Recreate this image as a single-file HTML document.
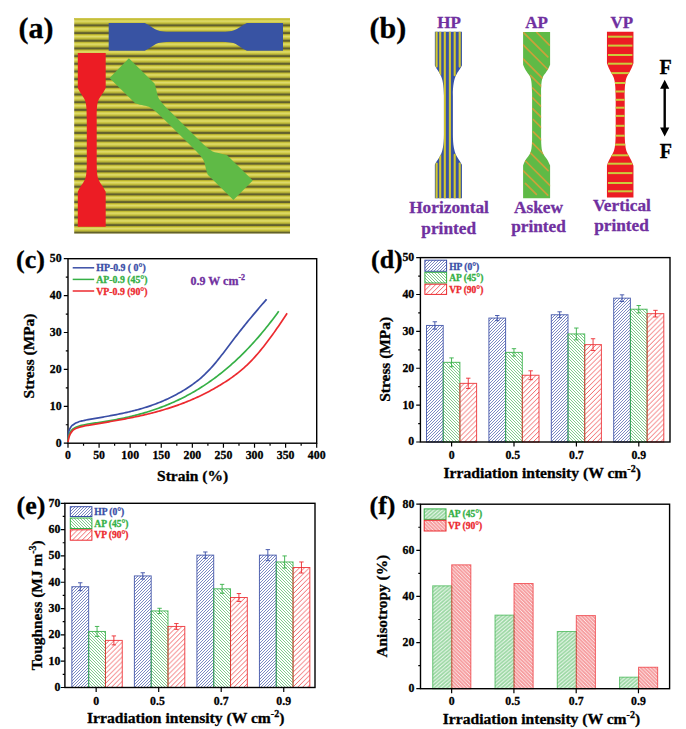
<!DOCTYPE html><html><head><meta charset="utf-8"><style>html,body{margin:0;padding:0;background:#fff}svg{display:block}text{font-family:'Liberation Serif',serif;font-weight:bold;stroke-width:0.3px}</style></head><body>
<svg width="686" height="729" viewBox="0 0 686 729">
<defs>
<linearGradient id="stripeG" x1="0" y1="0" x2="0" y2="1"><stop offset="0" stop-color="#4b4a27"/><stop offset="0.08" stop-color="#676530"/><stop offset="0.22" stop-color="#cfc72c"/><stop offset="0.46" stop-color="#dfdc74"/><stop offset="0.64" stop-color="#cec83c"/><stop offset="0.8" stop-color="#aaa636"/><stop offset="0.92" stop-color="#6a682e"/><stop offset="1" stop-color="#4b4a27"/></linearGradient>
<pattern id="stripes" patternUnits="userSpaceOnUse" x="0" y="2.372" width="300" height="7.681"><rect x="0" y="0" width="300" height="7.681" fill="url(#stripeG)"/></pattern>
<pattern id="hB" patternUnits="userSpaceOnUse" width="3.0" height="3.0"><path d="M0,3.0 L3.0,0 M-1.5,1.5 L1.5,-1.5 M1.5,4.5 L4.5,1.5" stroke="#3a4ea6" stroke-width="0.9" stroke-opacity="0.75" fill="none"/></pattern>
<pattern id="hG" patternUnits="userSpaceOnUse" width="3.0" height="3.0"><path d="M0,0 L3.0,3.0 M-1.5,1.5 L1.5,4.5 M1.5,-1.5 L4.5,1.5" stroke="#35b046" stroke-width="0.9" stroke-opacity="0.7" fill="none"/></pattern>
<pattern id="hR" patternUnits="userSpaceOnUse" width="4.9" height="4.9"><path d="M0,4.9 L4.9,0 M-2.45,2.45 L2.45,-2.45 M2.45,7.3500000000000005 L7.3500000000000005,2.45" stroke="#ec2a2f" stroke-width="0.9" stroke-opacity="0.8" fill="none"/></pattern>
<pattern id="fG" patternUnits="userSpaceOnUse" width="4.2" height="3.6"><rect width="4.2" height="3.6" fill="#35b046" fill-opacity="0.5"/><path d="M0,3.6 L4.2,0 M-2.1,1.8 L2.1,-1.8 M2.1,5.4 L6.3,1.8" stroke="#fff" stroke-width="0.9" stroke-opacity="0.85"/></pattern>
<pattern id="fR" patternUnits="userSpaceOnUse" width="3.6" height="3.6"><rect width="3.6" height="3.6" fill="#ec2a2f" fill-opacity="0.45"/><path d="M0,0 L3.6,3.6 M-1.8,1.8 L1.8,5.4 M1.8,-1.8 L5.4,1.8" stroke="#fff" stroke-width="0.9" stroke-opacity="0.85"/></pattern>
</defs>
<text x="18.5" y="38" font-size="30" stroke="#000">(a)</text>
<rect x="74.2" y="18.1" width="215.8" height="215.5" fill="url(#stripes)"/>
<rect x="74.2" y="18.1" width="215.8" height="1.1" fill="#d6cf52"/>
<path fill="#3853a3" transform="translate(195.85,36.8) rotate(0)" d="M-87.15,-13.85 L-51.05,-13.85 C-37.04,-6.76 -43.06,-4.95 -18.85,-4.95 L18.85,-4.95 C43.06,-4.95 37.04,-6.76 51.05,-13.85 L87.15,-13.85 L87.15,13.85 L51.05,13.85 C37.04,6.76 43.06,4.95 18.85,4.95 L-18.85,4.95 C-43.06,4.95 -37.04,6.76 -51.05,13.85 L-87.15,13.85 Z"/>
<path fill="#ec1c24" transform="translate(91.75,139.8) rotate(90)" d="M-86.90,-13.95 L-51.90,-13.95 C-37.89,-6.78 -43.91,-4.95 -19.70,-4.95 L19.70,-4.95 C43.91,-4.95 37.89,-6.78 51.90,-13.95 L86.90,-13.95 L86.90,13.95 L51.90,13.95 C37.89,6.78 43.91,4.95 19.70,4.95 L-19.70,4.95 C-43.91,4.95 -37.89,6.78 -51.90,13.95 L-86.90,13.95 Z"/>
<path fill="#5fba46" transform="translate(181.15,129.2) rotate(44.6)" d="M-87.00,-13.80 L-51.00,-13.80 C-36.99,-6.75 -43.01,-4.95 -18.80,-4.95 L18.80,-4.95 C43.01,-4.95 36.99,-6.75 51.00,-13.80 L87.00,-13.80 L87.00,13.80 L51.00,13.80 C36.99,6.75 43.01,4.95 18.80,4.95 L-18.80,4.95 C-43.01,4.95 -36.99,6.75 -51.00,13.80 L-87.00,13.80 Z"/>
<text x="369.5" y="38" font-size="30" stroke="#000">(b)</text>
<text x="449.1" y="27.8" font-size="17" fill="#7030a0" text-anchor="middle" stroke="#7030a0">HP</text>
<text x="536.6" y="27.8" font-size="17" fill="#7030a0" text-anchor="middle" stroke="#7030a0">AP</text>
<text x="621.8" y="27.8" font-size="17" fill="#7030a0" text-anchor="middle" stroke="#7030a0">VP</text>
<text x="449" y="213.2" font-size="17.3" fill="#7030a0" text-anchor="middle" stroke="#7030a0">Horizontal</text>
<text x="448.7" y="233.6" font-size="17.3" fill="#7030a0" text-anchor="middle" stroke="#7030a0">printed</text>
<text x="538.5" y="213.2" font-size="17.3" fill="#7030a0" text-anchor="middle" stroke="#7030a0">Askew</text>
<text x="538.5" y="232.3" font-size="17.3" fill="#7030a0" text-anchor="middle" stroke="#7030a0">printed</text>
<text x="621.9" y="210.9" font-size="17.3" fill="#7030a0" text-anchor="middle" stroke="#7030a0">Vertical</text>
<text x="621.5" y="230.5" font-size="17.3" fill="#7030a0" text-anchor="middle" stroke="#7030a0">printed</text>
<clipPath id="cHP"><path transform="translate(448.4,115.05) rotate(90)" d="M-83.25,-13.55 L-49.62,-13.55 C-42.18,-10.07 -41.06,-4.50 -19.38,-4.50 L19.38,-4.50 C41.06,-4.50 42.18,-10.07 49.62,-13.55 L83.25,-13.55 L83.25,13.55 L49.62,13.55 C42.18,10.07 41.06,4.50 19.38,4.50 L-19.38,4.50 C-41.06,4.50 -42.18,10.07 -49.62,13.55 L-83.25,13.55 Z"/></clipPath>
<clipPath id="cAP"><path transform="translate(536.6,115.1) rotate(90)" d="M-83.20,-13.50 L-50.34,-13.50 C-36.60,-8.05 -44.43,-4.50 -21.24,-4.50 L21.24,-4.50 C44.43,-4.50 36.60,-8.05 50.34,-13.50 L83.20,-13.50 L83.20,13.50 L50.34,13.50 C36.60,8.05 44.43,4.50 21.24,4.50 L-21.24,4.50 C-44.43,4.50 -36.60,8.05 -50.34,13.50 L-83.20,13.50 Z"/></clipPath>
<clipPath id="cVP"><path transform="translate(620.2,114.55) rotate(90)" d="M-82.85,-13.25 L-51.22,-13.25 C-35.36,-7.78 -43.04,-4.50 -15.67,-4.50 L15.67,-4.50 C43.04,-4.50 35.36,-7.78 51.22,-13.25 L82.85,-13.25 L82.85,13.25 L51.22,13.25 C35.36,7.78 43.04,4.50 15.67,4.50 L-15.67,4.50 C-43.04,4.50 -35.36,7.78 -51.22,13.25 L-82.85,13.25 Z"/></clipPath>
<path fill="#3853a3" transform="translate(448.4,115.05) rotate(90)" d="M-83.25,-13.55 L-49.62,-13.55 C-42.18,-10.07 -41.06,-4.50 -19.38,-4.50 L19.38,-4.50 C41.06,-4.50 42.18,-10.07 49.62,-13.55 L83.25,-13.55 L83.25,13.55 L49.62,13.55 C42.18,10.07 41.06,4.50 19.38,4.50 L-19.38,4.50 C-41.06,4.50 -42.18,10.07 -49.62,13.55 L-83.25,13.55 Z"/>
<g clip-path="url(#cHP)" stroke="#d2c82e" stroke-width="2.1" stroke-linecap="round">
<line x1="436.6" y1="31.5" x2="436.6" y2="66.6"/>
<line x1="436.6" y1="163.50" x2="436.6" y2="198.6"/>
<line x1="440.2" y1="31.5" x2="440.2" y2="75.3"/>
<line x1="440.2" y1="154.80" x2="440.2" y2="198.6"/>
<line x1="444.8" y1="31.5" x2="444.8" y2="198.6"/>
<line x1="449.9" y1="31.5" x2="449.9" y2="198.6"/>
<line x1="454.7" y1="31.5" x2="454.7" y2="75.3"/>
<line x1="454.7" y1="154.80" x2="454.7" y2="198.6"/>
<line x1="459.7" y1="31.5" x2="459.7" y2="66.6"/>
<line x1="459.7" y1="163.50" x2="459.7" y2="198.6"/>
</g>
<path fill="#5fba46" transform="translate(536.6,115.1) rotate(90)" d="M-83.20,-13.50 L-50.34,-13.50 C-36.60,-8.05 -44.43,-4.50 -21.24,-4.50 L21.24,-4.50 C44.43,-4.50 36.60,-8.05 50.34,-13.50 L83.20,-13.50 L83.20,13.50 L50.34,13.50 C36.60,8.05 44.43,4.50 21.24,4.50 L-21.24,4.50 C-44.43,4.50 -36.60,8.05 -50.34,13.50 L-83.20,13.50 Z"/>
<g clip-path="url(#cAP)" stroke="#c9a23a" stroke-width="1.7" stroke-linecap="round">
<line x1="536.8" y1="32.50" x2="549.4" y2="45.10"/>
<line x1="523.6" y1="32.70" x2="547.8" y2="56.90"/>
<line x1="523.1" y1="44.80" x2="547.8" y2="69.50"/>
<line x1="523.1" y1="58.85" x2="542.8" y2="78.55"/>
<line x1="530.5" y1="75.50" x2="541.9" y2="86.90"/>
<line x1="532.6" y1="88.00" x2="540.5" y2="95.90"/>
<line x1="532.6" y1="97.90" x2="541.2" y2="106.50"/>
<line x1="532.6" y1="108.60" x2="541.2" y2="117.20"/>
<line x1="533.3" y1="119.50" x2="541.6" y2="127.80"/>
<line x1="533.3" y1="131.90" x2="541.6" y2="140.20"/>
<line x1="532.6" y1="143.20" x2="543.4" y2="154.00"/>
<line x1="528.9" y1="151.40" x2="548.1" y2="170.60"/>
<line x1="525.4" y1="161.00" x2="550.1" y2="185.70"/>
<line x1="523.1" y1="170.60" x2="547.7" y2="195.20"/>
<line x1="525.4" y1="183.40" x2="536.4" y2="194.40"/>
</g>
<path fill="#ec1c24" transform="translate(620.2,114.55) rotate(90)" d="M-82.85,-13.25 L-51.22,-13.25 C-35.36,-7.78 -43.04,-4.50 -15.67,-4.50 L15.67,-4.50 C43.04,-4.50 35.36,-7.78 51.22,-13.25 L82.85,-13.25 L82.85,13.25 L51.22,13.25 C35.36,7.78 43.04,4.50 15.67,4.50 L-15.67,4.50 C-43.04,4.50 -35.36,7.78 -51.22,13.25 L-82.85,13.25 Z"/>
<g clip-path="url(#cVP)">
<rect x="608" y="35.7" width="24.4" height="2" fill="#cbcc3c"/>
<rect x="608" y="44.6" width="24.4" height="2" fill="#cbcc3c"/>
<rect x="608" y="54" width="24.4" height="2" fill="#cbcc3c"/>
<rect x="608" y="62.7" width="24.4" height="2" fill="#cbcc3c"/>
<rect x="608" y="72.1" width="24.4" height="2" fill="#cbcc3c"/>
<rect x="608" y="82" width="24.4" height="2" fill="#cbcc3c"/>
<rect x="608" y="90.5" width="24.4" height="2" fill="#cbcc3c"/>
<rect x="608" y="98.8" width="24.4" height="2" fill="#cbcc3c"/>
<rect x="608" y="106.7" width="24.4" height="2" fill="#cbcc3c"/>
<rect x="608" y="114.9" width="24.4" height="2" fill="#cbcc3c"/>
<rect x="608" y="124.8" width="24.4" height="2" fill="#cbcc3c"/>
<rect x="608" y="134.7" width="24.4" height="2" fill="#cbcc3c"/>
<rect x="608" y="143.6" width="24.4" height="2" fill="#cbcc3c"/>
<rect x="608" y="154.3" width="24.4" height="2" fill="#cbcc3c"/>
<rect x="608" y="162.7" width="24.4" height="2" fill="#cbcc3c"/>
<rect x="608" y="172.1" width="24.4" height="2" fill="#cbcc3c"/>
<rect x="608" y="182" width="24.4" height="2" fill="#cbcc3c"/>
<rect x="608" y="190.3" width="24.4" height="2" fill="#cbcc3c"/>
</g>
<text x="665.5" y="74" font-size="20" text-anchor="middle" stroke="#000">F</text>
<text x="665.8" y="158" font-size="20" text-anchor="middle" stroke="#000">F</text>
<line x1="664.7" y1="87" x2="664.7" y2="129" stroke="#000" stroke-width="2.4"/>
<path d="M664.7,79.7 L669.3,88.7 L660.1,88.7 Z M664.7,136.6 L669.3,127.5 L660.1,127.5 Z" fill="#000"/>
<text x="16" y="268.3" font-size="26" stroke="#000">(c)</text>
<path d="M68.00,443.2 v4.5 M83.54,443.2 v2.5 M99.09,443.2 v4.5 M114.63,443.2 v2.5 M130.18,443.2 v4.5 M145.72,443.2 v2.5 M161.26,443.2 v4.5 M176.81,443.2 v2.5 M192.35,443.2 v4.5 M207.89,443.2 v2.5 M223.44,443.2 v4.5 M238.98,443.2 v2.5 M254.53,443.2 v4.5 M270.07,443.2 v2.5 M285.61,443.2 v4.5 M301.16,443.2 v2.5 M316.70,443.2 v4.5 M68,443.20 h-4.2 M68,424.75 h-2.2 M68,406.30 h-4.2 M68,387.85 h-2.2 M68,369.40 h-4.2 M68,350.95 h-2.2 M68,332.50 h-4.2 M68,314.05 h-2.2 M68,295.60 h-4.2 M68,277.15 h-2.2 M68,258.70 h-4.2" stroke="#000" stroke-width="1.2"/>
<rect x="68" y="258.7" width="248.7" height="184.5" fill="none" stroke="#000" stroke-width="1.4"/>
<text x="68.00" y="459.3" font-size="11.8" text-anchor="middle" stroke="#000">0</text>
<text x="99.09" y="459.3" font-size="11.8" text-anchor="middle" stroke="#000">50</text>
<text x="130.18" y="459.3" font-size="11.8" text-anchor="middle" stroke="#000">100</text>
<text x="161.26" y="459.3" font-size="11.8" text-anchor="middle" stroke="#000">150</text>
<text x="192.35" y="459.3" font-size="11.8" text-anchor="middle" stroke="#000">200</text>
<text x="223.44" y="459.3" font-size="11.8" text-anchor="middle" stroke="#000">250</text>
<text x="254.53" y="459.3" font-size="11.8" text-anchor="middle" stroke="#000">300</text>
<text x="285.61" y="459.3" font-size="11.8" text-anchor="middle" stroke="#000">350</text>
<text x="316.70" y="459.3" font-size="11.8" text-anchor="middle" stroke="#000">400</text>
<text x="61.6" y="446.60" font-size="11.8" text-anchor="end" stroke="#000">0</text>
<text x="61.6" y="409.70" font-size="11.8" text-anchor="end" stroke="#000">10</text>
<text x="61.6" y="372.80" font-size="11.8" text-anchor="end" stroke="#000">20</text>
<text x="61.6" y="335.90" font-size="11.8" text-anchor="end" stroke="#000">30</text>
<text x="61.6" y="299.00" font-size="11.8" text-anchor="end" stroke="#000">40</text>
<text x="61.6" y="262.10" font-size="11.8" text-anchor="end" stroke="#000">50</text>
<text x="192.6" y="481" font-size="15.5" text-anchor="middle" stroke="#000">Strain (%)</text>
<text transform="translate(33.6,356) rotate(-90)" x="0" y="0" font-size="15.4" text-anchor="middle" stroke="#000">Stress (MPa)</text>
<path d="M67.9,442.2 C67.93,441.63 68.00,440.37 68.1,438.7977543859649 C68.20,437.23 68.29,434.28 68.5,432.78736842105263 C68.71,431.30 69.00,430.76 69.35,429.86420175438593 C69.70,428.97 70.12,428.17 70.6,427.44105263157894 C71.07,426.71 71.58,426.05 72.2,425.48210526315785 C72.82,424.91 73.61,424.45 74.3,424.0047368421053 C74.99,423.56 75.67,423.17 76.35,422.82921052631576 C77.03,422.49 77.71,422.21 78.4,421.9536842105263 C79.09,421.69 79.82,421.47 80.5,421.2763157894737 C81.18,421.08 81.82,420.96 82.5,420.8026315789474 C83.18,420.64 83.68,420.51 84.6,420.3252631578947 C85.52,420.14 87.43,419.78 88.0,419.66762424293023 L89.50,419.40 L91.00,419.14 L92.50,418.88 L94.00,418.61 L95.50,418.35 L97.00,418.09 L98.50,417.83 L100.00,417.57 L101.50,417.31 L103.00,417.04 L104.50,416.78 L106.00,416.51 L107.50,416.24 L109.00,415.97 L110.50,415.69 L112.00,415.41 L113.50,415.13 L115.00,414.84 L116.50,414.55 L118.00,414.25 L119.50,413.95 L121.00,413.64 L122.50,413.32 L124.00,413.00 L125.50,412.67 L127.00,412.33 L128.50,411.98 L130.00,411.63 L131.50,411.27 L133.00,410.90 L134.50,410.51 L136.00,410.12 L137.50,409.72 L139.00,409.31 L140.50,408.89 L142.00,408.45 L143.50,408.01 L145.00,407.55 L146.50,407.08 L148.00,406.60 L149.50,406.10 L151.00,405.59 L152.50,405.06 L154.00,404.53 L155.50,403.97 L157.00,403.40 L158.50,402.82 L160.00,402.22 L161.50,401.60 L163.00,400.97 L164.50,400.31 L166.00,399.65 L167.50,398.96 L169.00,398.25 L170.50,397.53 L172.00,396.79 L173.50,396.02 L175.00,395.24 L176.50,394.44 L178.00,393.62 L179.50,392.77 L181.00,391.91 L182.50,391.02 L184.00,390.11 L185.50,389.18 L187.00,388.22 L188.50,387.24 L190.00,386.24 L191.50,385.21 L193.00,384.15 L194.50,383.06 L196.00,381.94 L197.50,380.77 L199.00,379.56 L200.50,378.30 L202.00,376.99 L203.50,375.62 L205.00,374.21 L206.50,372.73 L208.00,371.21 L209.50,369.63 L211.00,368.01 L212.50,366.33 L214.00,364.60 L215.50,362.83 L217.00,361.01 L218.50,359.15 L220.00,357.26 L221.50,355.34 L223.00,353.40 L224.50,351.44 L226.00,349.46 L227.50,347.48 L229.00,345.49 L230.50,343.49 L232.00,341.51 L233.50,339.53 L235.00,337.56 L236.50,335.61 L238.00,333.68 L239.50,331.77 L241.00,329.87 L242.50,327.98 L244.00,326.11 L245.50,324.26 L247.00,322.41 L248.50,320.58 L250.00,318.76 L251.50,316.96 L253.00,315.16 L254.50,313.37 L256.00,311.59 L257.50,309.83 L259.00,308.06 L260.50,306.31 L262.00,304.56 L263.50,302.82 L265.00,301.09 L266.50,299.36 L266.60,299.24" fill="none" stroke="#3a4ea6" stroke-width="1.7" stroke-linejoin="round"/>
<path d="M67.9,442.2 C67.97,441.62 68.17,439.75 68.3,438.69354385964914 C68.43,437.64 68.53,436.66 68.7,435.87922807017543 C68.88,435.10 69.03,434.74 69.35,434.01420175438597 C69.67,433.29 70.12,432.28 70.6,431.5410526315789 C71.07,430.80 71.58,430.15 72.2,429.58210526315787 C72.82,429.01 73.61,428.53 74.3,428.1047368421053 C74.99,427.68 75.32,427.45 76.35,427.0292105263158 C77.38,426.61 79.12,425.96 80.5,425.5763157894737 C81.88,425.19 83.35,424.99 84.6,424.72526315789474 C85.85,424.46 87.43,424.10 88.0,423.9794260566239 L89.50,423.78 L91.00,423.58 L92.50,423.37 L94.00,423.17 L95.50,422.95 L97.00,422.74 L98.50,422.52 L100.00,422.29 L101.50,422.06 L103.00,421.83 L104.50,421.59 L106.00,421.35 L107.50,421.10 L109.00,420.84 L110.50,420.58 L112.00,420.32 L113.50,420.05 L115.00,419.77 L116.50,419.49 L118.00,419.19 L119.50,418.90 L121.00,418.59 L122.50,418.28 L124.00,417.96 L125.50,417.64 L127.00,417.30 L128.50,416.96 L130.00,416.61 L131.50,416.26 L133.00,415.89 L134.50,415.52 L136.00,415.13 L137.50,414.74 L139.00,414.34 L140.50,413.93 L142.00,413.51 L143.50,413.08 L145.00,412.64 L146.50,412.19 L148.00,411.73 L149.50,411.26 L151.00,410.78 L152.50,410.29 L154.00,409.79 L155.50,409.28 L157.00,408.75 L158.50,408.21 L160.00,407.67 L161.50,407.11 L163.00,406.53 L164.50,405.95 L166.00,405.35 L167.50,404.74 L169.00,404.12 L170.50,403.49 L172.00,402.84 L173.50,402.18 L175.00,401.50 L176.50,400.81 L178.00,400.11 L179.50,399.39 L181.00,398.66 L182.50,397.92 L184.00,397.16 L185.50,396.38 L187.00,395.59 L188.50,394.79 L190.00,393.97 L191.50,393.13 L193.00,392.28 L194.50,391.41 L196.00,390.53 L197.50,389.62 L199.00,388.71 L200.50,387.77 L202.00,386.82 L203.50,385.86 L205.00,384.87 L206.50,383.87 L208.00,382.85 L209.50,381.81 L211.00,380.75 L212.50,379.68 L214.00,378.59 L215.50,377.48 L217.00,376.35 L218.50,375.20 L220.00,374.03 L221.50,372.84 L223.00,371.64 L224.50,370.41 L226.00,369.17 L227.50,367.90 L229.00,366.61 L230.50,365.31 L232.00,363.98 L233.50,362.63 L235.00,361.26 L236.50,359.87 L238.00,358.46 L239.50,357.03 L241.00,355.57 L242.50,354.10 L244.00,352.60 L245.50,351.08 L247.00,349.53 L248.50,347.97 L250.00,346.38 L251.50,344.77 L253.00,343.13 L254.50,341.47 L256.00,339.79 L257.50,338.09 L259.00,336.36 L260.50,334.60 L262.00,332.82 L263.50,331.02 L265.00,329.20 L266.50,327.34 L268.00,325.47 L269.50,323.56 L271.00,321.64 L272.50,319.68 L274.00,317.70 L275.50,315.70 L277.00,313.67 L278.50,311.61 L278.80,311.20" fill="none" stroke="#35b046" stroke-width="1.7" stroke-linejoin="round"/>
<path d="M67.9,442.2 C67.93,442.05 67.93,442.07 68.1,441.2977543859649 C68.27,440.53 68.55,438.78 68.9,437.56912280701755 C69.25,436.35 69.65,435.09 70.2,434.0057894736842 C70.75,432.92 71.52,431.87 72.2,431.08210526315787 C72.88,430.30 73.61,429.78 74.3,429.3047368421053 C74.99,428.83 75.32,428.63 76.35,428.2292105263158 C77.38,427.82 79.12,427.28 80.5,426.8763157894737 C81.88,426.48 83.35,426.08 84.6,425.8252631578947 C85.85,425.57 87.43,425.40 88.0,425.31972432840485 L89.50,425.07 L91.00,424.81 L92.50,424.56 L94.00,424.31 L95.50,424.06 L97.00,423.81 L98.50,423.56 L100.00,423.31 L101.50,423.06 L103.00,422.80 L104.50,422.55 L106.00,422.30 L107.50,422.04 L109.00,421.79 L110.50,421.53 L112.00,421.27 L113.50,421.01 L115.00,420.74 L116.50,420.48 L118.00,420.21 L119.50,419.93 L121.00,419.66 L122.50,419.38 L124.00,419.10 L125.50,418.82 L127.00,418.53 L128.50,418.23 L130.00,417.94 L131.50,417.64 L133.00,417.33 L134.50,417.02 L136.00,416.70 L137.50,416.38 L139.00,416.06 L140.50,415.73 L142.00,415.39 L143.50,415.05 L145.00,414.70 L146.50,414.34 L148.00,413.98 L149.50,413.61 L151.00,413.24 L152.50,412.85 L154.00,412.46 L155.50,412.07 L157.00,411.66 L158.50,411.25 L160.00,410.83 L161.50,410.40 L163.00,409.96 L164.50,409.52 L166.00,409.06 L167.50,408.60 L169.00,408.12 L170.50,407.64 L172.00,407.15 L173.50,406.65 L175.00,406.14 L176.50,405.61 L178.00,405.08 L179.50,404.54 L181.00,403.98 L182.50,403.42 L184.00,402.84 L185.50,402.26 L187.00,401.66 L188.50,401.05 L190.00,400.42 L191.50,399.79 L193.00,399.14 L194.50,398.48 L196.00,397.81 L197.50,397.12 L199.00,396.43 L200.50,395.71 L202.00,394.99 L203.50,394.25 L205.00,393.50 L206.50,392.73 L208.00,391.95 L209.50,391.15 L211.00,390.34 L212.50,389.52 L214.00,388.68 L215.50,387.82 L217.00,386.95 L218.50,386.07 L220.00,385.17 L221.50,384.25 L223.00,383.32 L224.50,382.37 L226.00,381.41 L227.50,380.43 L229.00,379.42 L230.50,378.40 L232.00,377.35 L233.50,376.28 L235.00,375.18 L236.50,374.04 L238.00,372.88 L239.50,371.68 L241.00,370.44 L242.50,369.16 L244.00,367.84 L245.50,366.48 L247.00,365.08 L248.50,363.62 L250.00,362.12 L251.50,360.58 L253.00,358.98 L254.50,357.35 L256.00,355.67 L257.50,353.95 L259.00,352.19 L260.50,350.39 L262.00,348.56 L263.50,346.68 L265.00,344.77 L266.50,342.83 L268.00,340.85 L269.50,338.84 L271.00,336.79 L272.50,334.72 L274.00,332.62 L275.50,330.49 L277.00,328.33 L278.50,326.15 L280.00,323.95 L281.50,321.73 L283.00,319.50 L284.50,317.24 L286.00,314.98 L287.10,313.31" fill="none" stroke="#ec2a2f" stroke-width="1.7" stroke-linejoin="round"/>
<line x1="72.7" y1="267.8" x2="94.2" y2="267.8" stroke="#3a4ea6" stroke-width="1.5"/>
<text x="96.3" y="271.40" font-size="9.8" fill="#3a4ea6" stroke="#3a4ea6">HP-0.9 ( 0°)</text>
<line x1="72.7" y1="279.40000000000003" x2="94.2" y2="279.40000000000003" stroke="#35b046" stroke-width="1.5"/>
<text x="96.3" y="283.00" font-size="9.8" fill="#35b046" stroke="#35b046">AP-0.9 (45°)</text>
<line x1="72.7" y1="291.0" x2="94.2" y2="291.0" stroke="#ec2a2f" stroke-width="1.5"/>
<text x="96.3" y="294.60" font-size="9.8" fill="#ec2a2f" stroke="#ec2a2f">VP-0.9 (90°)</text>
<text x="190.5" y="285" font-size="12" fill="#7030a0" stroke="#7030a0">0.9 W cm<tspan font-size="8" dy="-5">-2</tspan></text>
<text x="371" y="267.5" font-size="26" stroke="#000">(d)</text>
<rect x="426.50" y="325.46" width="16.7" height="116.54" fill="url(#hB)" stroke="#3a4ea6" stroke-width="1" stroke-opacity="0.85"/>
<rect x="488.90" y="318.08" width="16.7" height="123.92" fill="url(#hB)" stroke="#3a4ea6" stroke-width="1" stroke-opacity="0.85"/>
<rect x="551.30" y="314.76" width="16.7" height="127.24" fill="url(#hB)" stroke="#3a4ea6" stroke-width="1" stroke-opacity="0.85"/>
<rect x="613.70" y="298.17" width="16.7" height="143.83" fill="url(#hB)" stroke="#3a4ea6" stroke-width="1" stroke-opacity="0.85"/>
<path d="M434.85,321.77 V329.15 M432.65,321.77 h4.4 M432.65,329.15 h4.4" stroke="#3a4ea6" stroke-width="0.9" fill="none"/>
<path d="M497.25,315.50 V320.66 M495.05,315.50 h4.4 M495.05,320.66 h4.4" stroke="#3a4ea6" stroke-width="0.9" fill="none"/>
<path d="M559.65,311.81 V317.71 M557.45,311.81 h4.4 M557.45,317.71 h4.4" stroke="#3a4ea6" stroke-width="0.9" fill="none"/>
<path d="M622.05,294.85 V301.49 M619.85,294.85 h4.4 M619.85,301.49 h4.4" stroke="#3a4ea6" stroke-width="0.9" fill="none"/>
<rect x="443.20" y="362.34" width="16.7" height="79.66" fill="url(#hG)" stroke="#35b046" stroke-width="1" stroke-opacity="0.85"/>
<rect x="505.60" y="352.38" width="16.7" height="89.62" fill="url(#hG)" stroke="#35b046" stroke-width="1" stroke-opacity="0.85"/>
<rect x="568.00" y="333.94" width="16.7" height="108.06" fill="url(#hG)" stroke="#35b046" stroke-width="1" stroke-opacity="0.85"/>
<rect x="630.40" y="309.23" width="16.7" height="132.77" fill="url(#hG)" stroke="#35b046" stroke-width="1" stroke-opacity="0.85"/>
<path d="M451.55,357.91 V366.76 M449.35,357.91 h4.4 M449.35,366.76 h4.4" stroke="#35b046" stroke-width="0.9" fill="none"/>
<path d="M513.95,348.69 V356.07 M511.75,348.69 h4.4 M511.75,356.07 h4.4" stroke="#35b046" stroke-width="0.9" fill="none"/>
<path d="M576.35,328.04 V339.84 M574.15,328.04 h4.4 M574.15,339.84 h4.4" stroke="#35b046" stroke-width="0.9" fill="none"/>
<path d="M638.75,305.54 V312.92 M636.55,305.54 h4.4 M636.55,312.92 h4.4" stroke="#35b046" stroke-width="0.9" fill="none"/>
<rect x="459.90" y="383.36" width="16.7" height="58.64" fill="url(#hR)" stroke="#ec2a2f" stroke-width="1" stroke-opacity="0.85"/>
<rect x="522.30" y="375.25" width="16.7" height="66.75" fill="url(#hR)" stroke="#ec2a2f" stroke-width="1" stroke-opacity="0.85"/>
<rect x="584.70" y="344.64" width="16.7" height="97.36" fill="url(#hR)" stroke="#ec2a2f" stroke-width="1" stroke-opacity="0.85"/>
<rect x="647.10" y="313.66" width="16.7" height="128.34" fill="url(#hR)" stroke="#ec2a2f" stroke-width="1" stroke-opacity="0.85"/>
<path d="M468.25,378.20 V388.52 M466.05,378.20 h4.4 M466.05,388.52 h4.4" stroke="#ec2a2f" stroke-width="0.9" fill="none"/>
<path d="M530.65,370.82 V379.67 M528.45,370.82 h4.4 M528.45,379.67 h4.4" stroke="#ec2a2f" stroke-width="0.9" fill="none"/>
<path d="M593.05,338.74 V350.54 M590.85,338.74 h4.4 M590.85,350.54 h4.4" stroke="#ec2a2f" stroke-width="0.9" fill="none"/>
<path d="M655.45,310.34 V316.98 M653.25,310.34 h4.4 M653.25,316.98 h4.4" stroke="#ec2a2f" stroke-width="0.9" fill="none"/>
<path d="M420.4,442.00 h-4.2 M420.4,423.56 h-2.2 M420.4,405.12 h-4.2 M420.4,386.68 h-2.2 M420.4,368.24 h-4.2 M420.4,349.80 h-2.2 M420.4,331.36 h-4.2 M420.4,312.92 h-2.2 M420.4,294.48 h-4.2 M420.4,276.04 h-2.2 M420.4,257.60 h-4.2 M451.60,442.0 v4.5 M514.00,442.0 v4.5 M576.40,442.0 v4.5 M638.80,442.0 v4.5" stroke="#000" stroke-width="1.2"/>
<rect x="420.4" y="257.6" width="249.60000000000002" height="184.39999999999998" fill="none" stroke="#000" stroke-width="1.4"/>
<text x="414.2" y="445.40" font-size="11.8" text-anchor="end" stroke="#000">0</text>
<text x="414.2" y="408.52" font-size="11.8" text-anchor="end" stroke="#000">10</text>
<text x="414.2" y="371.64" font-size="11.8" text-anchor="end" stroke="#000">20</text>
<text x="414.2" y="334.76" font-size="11.8" text-anchor="end" stroke="#000">30</text>
<text x="414.2" y="297.88" font-size="11.8" text-anchor="end" stroke="#000">40</text>
<text x="414.2" y="261.00" font-size="11.8" text-anchor="end" stroke="#000">50</text>
<text x="451.60" y="458.6" font-size="11.8" text-anchor="middle" stroke="#000">0</text>
<text x="512.80" y="458.6" font-size="11.8" text-anchor="middle" stroke="#000">0.5</text>
<text x="576.40" y="458.6" font-size="11.8" text-anchor="middle" stroke="#000">0.7</text>
<text x="638.80" y="458.6" font-size="11.8" text-anchor="middle" stroke="#000">0.9</text>
<text x="443.5" y="478.1" font-size="15.6" stroke="#000">Irradiation intensity (W cm<tspan font-size="10" dy="-6">-2</tspan><tspan dy="6">)</tspan></text>
<text transform="translate(390.0,359.3) rotate(-90)" font-size="15.4" text-anchor="middle" stroke="#000">Stress (MPa)</text>
<rect x="424.9" y="260.2" width="21.700000000000045" height="11.100000000000023" fill="url(#hB)" stroke="#3a4ea6" stroke-width="1"/>
<text x="449.2" y="269.6" font-size="9.5" fill="#3a4ea6" stroke="#3a4ea6">HP (0°)</text>
<rect x="424.9" y="272.3" width="21.700000000000045" height="10.699999999999989" fill="url(#hG)" stroke="#35b046" stroke-width="1"/>
<text x="449.2" y="281.1" font-size="9.5" fill="#35b046" stroke="#35b046">AP (45°)</text>
<rect x="424.9" y="284.2" width="21.700000000000045" height="10.199999999999989" fill="url(#hR)" stroke="#ec2a2f" stroke-width="1"/>
<text x="449.2" y="292.8" font-size="9.5" fill="#ec2a2f" stroke="#ec2a2f">VP (90°)</text>
<text x="16.5" y="514" font-size="26" stroke="#000">(e)</text>
<rect x="71.86" y="586.72" width="16.8" height="100.78" fill="url(#hB)" stroke="#3a4ea6" stroke-width="1" stroke-opacity="0.85"/>
<rect x="134.39" y="575.93" width="16.8" height="111.57" fill="url(#hB)" stroke="#3a4ea6" stroke-width="1" stroke-opacity="0.85"/>
<rect x="196.91" y="555.14" width="16.8" height="132.36" fill="url(#hB)" stroke="#3a4ea6" stroke-width="1" stroke-opacity="0.85"/>
<rect x="259.44" y="555.14" width="16.8" height="132.36" fill="url(#hB)" stroke="#3a4ea6" stroke-width="1" stroke-opacity="0.85"/>
<path d="M80.26,582.77 V590.66 M78.06,582.77 h4.4 M78.06,590.66 h4.4" stroke="#3a4ea6" stroke-width="0.9" fill="none"/>
<path d="M142.79,572.77 V579.09 M140.59,572.77 h4.4 M140.59,579.09 h4.4" stroke="#3a4ea6" stroke-width="0.9" fill="none"/>
<path d="M205.31,551.98 V558.30 M203.11,551.98 h4.4 M203.11,558.30 h4.4" stroke="#3a4ea6" stroke-width="0.9" fill="none"/>
<path d="M267.84,549.61 V560.67 M265.64,549.61 h4.4 M265.64,560.67 h4.4" stroke="#3a4ea6" stroke-width="0.9" fill="none"/>
<rect x="88.66" y="631.45" width="16.8" height="56.05" fill="url(#hG)" stroke="#35b046" stroke-width="1" stroke-opacity="0.85"/>
<rect x="151.19" y="610.93" width="16.8" height="76.57" fill="url(#hG)" stroke="#35b046" stroke-width="1" stroke-opacity="0.85"/>
<rect x="213.71" y="588.82" width="16.8" height="98.68" fill="url(#hG)" stroke="#35b046" stroke-width="1" stroke-opacity="0.85"/>
<rect x="276.24" y="561.98" width="16.8" height="125.52" fill="url(#hG)" stroke="#35b046" stroke-width="1" stroke-opacity="0.85"/>
<path d="M97.06,626.45 V636.45 M94.86,626.45 h4.4 M94.86,636.45 h4.4" stroke="#35b046" stroke-width="0.9" fill="none"/>
<path d="M159.59,608.29 V613.56 M157.39,608.29 h4.4 M157.39,613.56 h4.4" stroke="#35b046" stroke-width="0.9" fill="none"/>
<path d="M222.11,584.35 V593.29 M219.91,584.35 h4.4 M219.91,593.29 h4.4" stroke="#35b046" stroke-width="0.9" fill="none"/>
<path d="M284.64,555.93 V568.03 M282.44,555.93 h4.4 M282.44,568.03 h4.4" stroke="#35b046" stroke-width="0.9" fill="none"/>
<rect x="105.46" y="640.40" width="16.8" height="47.10" fill="url(#hR)" stroke="#ec2a2f" stroke-width="1" stroke-opacity="0.85"/>
<rect x="167.99" y="626.45" width="16.8" height="61.05" fill="url(#hR)" stroke="#ec2a2f" stroke-width="1" stroke-opacity="0.85"/>
<rect x="230.51" y="597.51" width="16.8" height="89.99" fill="url(#hR)" stroke="#ec2a2f" stroke-width="1" stroke-opacity="0.85"/>
<rect x="293.04" y="567.51" width="16.8" height="119.99" fill="url(#hR)" stroke="#ec2a2f" stroke-width="1" stroke-opacity="0.85"/>
<path d="M113.86,635.92 V644.87 M111.66,635.92 h4.4 M111.66,644.87 h4.4" stroke="#ec2a2f" stroke-width="0.9" fill="none"/>
<path d="M176.39,623.56 V629.35 M174.19,623.56 h4.4 M174.19,629.35 h4.4" stroke="#ec2a2f" stroke-width="0.9" fill="none"/>
<path d="M238.91,593.56 V601.45 M236.71,593.56 h4.4 M236.71,601.45 h4.4" stroke="#ec2a2f" stroke-width="0.9" fill="none"/>
<path d="M301.44,561.98 V573.03 M299.24,561.98 h4.4 M299.24,573.03 h4.4" stroke="#ec2a2f" stroke-width="0.9" fill="none"/>
<path d="M64.9,687.50 h-4.2 M64.9,674.34 h-2.2 M64.9,661.19 h-4.2 M64.9,648.03 h-2.2 M64.9,634.87 h-4.2 M64.9,621.71 h-2.2 M64.9,608.56 h-4.2 M64.9,595.40 h-2.2 M64.9,582.24 h-4.2 M64.9,569.09 h-2.2 M64.9,555.93 h-4.2 M64.9,542.77 h-2.2 M64.9,529.61 h-4.2 M64.9,516.46 h-2.2 M64.9,503.30 h-4.2 M96.16,687.5 v4.5 M158.69,687.5 v4.5 M221.21,687.5 v4.5 M283.74,687.5 v4.5" stroke="#000" stroke-width="1.2"/>
<rect x="64.9" y="503.3" width="250.1" height="184.2" fill="none" stroke="#000" stroke-width="1.4"/>
<text x="60.3" y="690.90" font-size="11.8" text-anchor="end" stroke="#000">0</text>
<text x="60.3" y="664.59" font-size="11.8" text-anchor="end" stroke="#000">10</text>
<text x="60.3" y="638.27" font-size="11.8" text-anchor="end" stroke="#000">20</text>
<text x="60.3" y="611.96" font-size="11.8" text-anchor="end" stroke="#000">30</text>
<text x="60.3" y="585.64" font-size="11.8" text-anchor="end" stroke="#000">40</text>
<text x="60.3" y="559.33" font-size="11.8" text-anchor="end" stroke="#000">50</text>
<text x="60.3" y="533.01" font-size="11.8" text-anchor="end" stroke="#000">60</text>
<text x="60.3" y="506.70" font-size="11.8" text-anchor="end" stroke="#000">70</text>
<text x="96.16" y="704.9" font-size="11.8" text-anchor="middle" stroke="#000">0</text>
<text x="157.49" y="704.9" font-size="11.8" text-anchor="middle" stroke="#000">0.5</text>
<text x="221.21" y="704.9" font-size="11.8" text-anchor="middle" stroke="#000">0.7</text>
<text x="283.74" y="704.9" font-size="11.8" text-anchor="middle" stroke="#000">0.9</text>
<text x="87" y="722.8" font-size="15.6" stroke="#000">Irradiation intensity (W cm<tspan font-size="10" dy="-6">-2</tspan><tspan dy="6">)</tspan></text>
<text transform="translate(42.0,605.3) rotate(-90)" font-size="15.4" text-anchor="middle" stroke="#000">Toughness (MJ m<tspan font-size="10" dy="-6">-3</tspan><tspan dy="6">)</tspan></text>
<rect x="70.3" y="506.7" width="21.60000000000001" height="9.800000000000011" fill="url(#hB)" stroke="#3a4ea6" stroke-width="1"/>
<text x="94.3" y="515.3" font-size="9.5" fill="#3a4ea6" stroke="#3a4ea6">HP (0°)</text>
<rect x="70.3" y="518.0" width="21.60000000000001" height="10.5" fill="url(#hG)" stroke="#35b046" stroke-width="1"/>
<text x="94.3" y="526.8" font-size="9.5" fill="#35b046" stroke="#35b046">AP (45°)</text>
<rect x="70.3" y="529.8" width="21.60000000000001" height="10.400000000000091" fill="url(#hR)" stroke="#ec2a2f" stroke-width="1"/>
<text x="94.3" y="538.3" font-size="9.5" fill="#ec2a2f" stroke="#ec2a2f">VP (90°)</text>
<text x="369.5" y="514" font-size="26" stroke="#000">(f)</text>
<rect x="432.74" y="585.84" width="19.1" height="102.86" fill="url(#fG)" stroke="#35b046" stroke-width="1" stroke-opacity="0.7"/>
<rect x="495.01" y="615.13" width="19.1" height="73.57" fill="url(#fG)" stroke="#35b046" stroke-width="1" stroke-opacity="0.7"/>
<rect x="557.29" y="631.50" width="19.1" height="57.20" fill="url(#fG)" stroke="#35b046" stroke-width="1" stroke-opacity="0.7"/>
<rect x="619.56" y="677.17" width="19.1" height="11.53" fill="url(#fG)" stroke="#35b046" stroke-width="1" stroke-opacity="0.7"/>
<rect x="451.74" y="564.85" width="19.1" height="123.85" fill="url(#fR)" stroke="#ec2a2f" stroke-width="1" stroke-opacity="0.7"/>
<rect x="514.01" y="583.53" width="19.1" height="105.17" fill="url(#fR)" stroke="#ec2a2f" stroke-width="1" stroke-opacity="0.7"/>
<rect x="576.29" y="615.59" width="19.1" height="73.11" fill="url(#fR)" stroke="#ec2a2f" stroke-width="1" stroke-opacity="0.7"/>
<rect x="638.56" y="667.25" width="19.1" height="21.45" fill="url(#fR)" stroke="#ec2a2f" stroke-width="1" stroke-opacity="0.7"/>
<path d="M420.5,688.70 h-4.2 M420.5,665.64 h-2.2 M420.5,642.58 h-4.2 M420.5,619.51 h-2.2 M420.5,596.45 h-4.2 M420.5,573.39 h-2.2 M420.5,550.33 h-4.2 M420.5,527.26 h-2.2 M420.5,504.20 h-4.2 M451.64,688.7 v4.5 M513.91,688.7 v4.5 M576.19,688.7 v4.5 M638.46,688.7 v4.5" stroke="#000" stroke-width="1.2"/>
<rect x="420.5" y="504.2" width="249.10000000000002" height="184.50000000000006" fill="none" stroke="#000" stroke-width="1.4"/>
<text x="414.4" y="692.10" font-size="11.8" text-anchor="end" stroke="#000">0</text>
<text x="414.4" y="645.98" font-size="11.8" text-anchor="end" stroke="#000">20</text>
<text x="414.4" y="599.85" font-size="11.8" text-anchor="end" stroke="#000">40</text>
<text x="414.4" y="553.73" font-size="11.8" text-anchor="end" stroke="#000">60</text>
<text x="414.4" y="507.60" font-size="11.8" text-anchor="end" stroke="#000">80</text>
<text x="451.64" y="705.4" font-size="11.8" text-anchor="middle" stroke="#000">0</text>
<text x="512.71" y="705.4" font-size="11.8" text-anchor="middle" stroke="#000">0.5</text>
<text x="576.19" y="705.4" font-size="11.8" text-anchor="middle" stroke="#000">0.7</text>
<text x="638.46" y="705.4" font-size="11.8" text-anchor="middle" stroke="#000">0.9</text>
<text x="442.8" y="723.6" font-size="15.6" stroke="#000">Irradiation intensity (W cm<tspan font-size="10" dy="-6">-2</tspan><tspan dy="6">)</tspan></text>
<text transform="translate(386.8,606.2) rotate(-90)" font-size="15.4" text-anchor="middle" stroke="#000">Anisotropy (%)</text>
<rect x="424.2" y="508.9" width="21.80000000000001" height="10.5" fill="url(#fG)" stroke="#35b046" stroke-width="1"/>
<text x="448.0" y="517.4" font-size="9.5" fill="#35b046" stroke="#35b046">AP (45°)</text>
<rect x="424.2" y="520.3" width="21.80000000000001" height="10.700000000000045" fill="url(#fR)" stroke="#ec2a2f" stroke-width="1"/>
<text x="448.0" y="529.0" font-size="9.5" fill="#ec2a2f" stroke="#ec2a2f">VP (90°)</text>
</svg></body></html>
